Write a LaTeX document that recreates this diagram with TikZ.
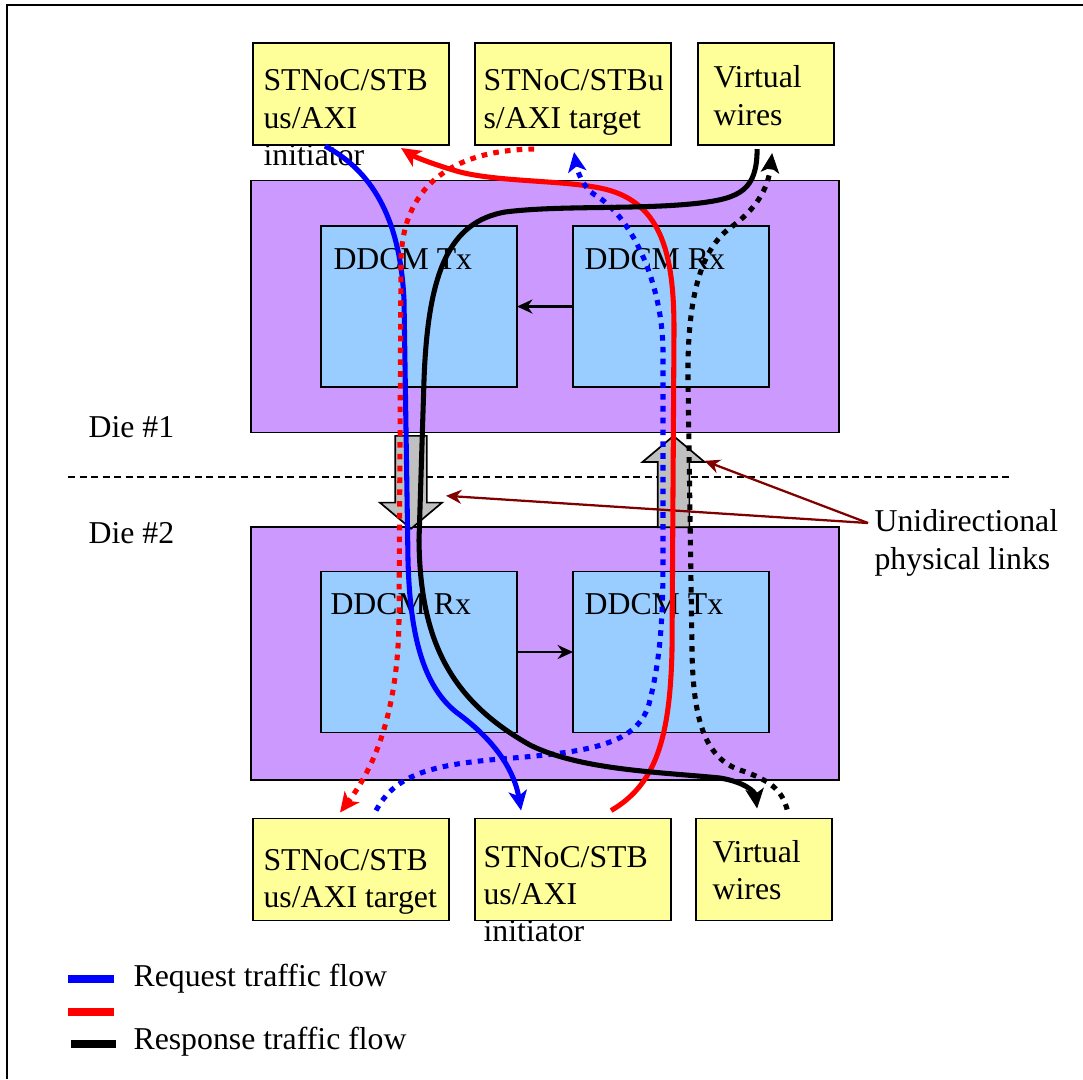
\documentclass[tikz,border=0pt]{standalone}
\usepackage{fontspec}
\setmainfont{Liberation Serif}
\usetikzlibrary{positioning,calc,shapes.arrows,arrows.meta}

\definecolor{yfill}{HTML}{FFFF99}
\definecolor{dfill}{HTML}{CC99FF}
\definecolor{mfill}{HTML}{99CCFF}
\definecolor{afill}{HTML}{C0C0C0}
\definecolor{cred}{HTML}{800000}

\tikzset{
  ybox/.style={rectangle, draw, fill=yfill, line width=0.6pt, minimum width=2.45cm, minimum height=1.275cm, inner sep=0pt, outer sep=0pt},
  die/.style={rectangle, draw, fill=dfill, line width=0.6pt, minimum width=7.35cm, minimum height=3.15cm, inner sep=0pt, outer sep=0pt},
  mod/.style={rectangle, draw, fill=mfill, line width=0.6pt, minimum width=2.45cm, minimum height=2.0125cm, inner sep=0pt, outer sep=0pt},
  lbl/.style={anchor=north west, inner sep=0pt, align=left},
  blk/.style={single arrow, draw, fill=afill, line width=0.6pt, inner xsep=0pt, inner ysep=0.1875cm, single arrow head extend=0.19cm, single arrow tip angle=100, minimum height=1.16cm},
  flow/.style={line width=1.8pt, -{Stealth[length=7pt,width=6.5pt,inset=1.8pt]}},
  dots/.style={flow, dash pattern=on 2pt off 2.2pt},
  link/.style={line width=1pt, -{Stealth[length=5.5pt,width=5pt]}},
  callout/.style={cred, line width=0.8pt, -{Stealth[length=5.5pt,width=5pt]}},
  sepline/.style={line width=0.7pt, dash pattern=on 2.5pt off 1.6pt},
  legline/.style={line width=2.8pt},
}

\begin{document}
\begin{tikzpicture}[x=0.0125cm, y=-0.0125cm, font=\fontsize{11.3pt}{13.3pt}\selectfont]
    \useasboundingbox (0,0) rectangle (1083,1079);
    % Frame and die boundary
    \draw[line width=0.7pt] (7,1079) -- (7,5) -- (1083,5);
    \draw[sepline] (68,477) -- (1009,477);

    % Dies
    \node (die1) [die] at (545,306.5) {};
    \node (die2) [die, minimum height=3.1625cm] at (545,653.5) {};
    \node (d1tx) [mod] at (419,306.5) {};
    \node (d1rx) [mod, right=0.7cm of d1tx] {};
    \node (d2rx) [mod] at (419,652) {};
    \node (d2tx) [mod, right=0.7cm of d2rx] {};
    \node (d1txl) [lbl] at ($(d1tx.north west)+(12,22)$) {DDCM Tx};
    \node (d1rxl) [lbl] at ($(d1rx.north west)+(11,22)$) {DDCM Rx};
    \node (d2rxl) [lbl] at ($(d2rx.north west)+(9,21)$) {DDCM Rx};
    \node (d2txl) [lbl] at ($(d2tx.north west)+(11,21)$) {DDCM Tx};
    \node (die1l) [lbl] at (88,416) {Die \#1};
    \node (die2l) [lbl] at (88,522) {Die \#2};

    % Top interfaces
    \node (tA) [ybox] at (351,94) {};
    \node (tB) [ybox, right=0.325cm of tA] {};
    \node (tC) [ybox, minimum width=1.7cm, right=0.3375cm of tB] {};
    \node (tAl) [lbl] at ($(tA.north west)+(10,26)$) {STNoC/STB\\us/AXI\\initiator};
    \node (tBl) [lbl] at ($(tB.north west)+(8,26)$) {STNoC/STBu\\s/AXI target};
    \node (tCl) [lbl] at ($(tC.north west)+(15,22)$) {Virtual\\wires};

    % Bottom interfaces
    \node (bA) [ybox] at (351,869.5) {};
    \node (bB) [ybox, right=0.325cm of bA] {};
    \node (bC) [ybox, minimum width=1.7cm, right=0.3125cm of bB] {};
    \node (bAl) [lbl] at ($(bA.north west)+(10,30)$) {STNoC/STB\\us/AXI target};
    \node (bBl) [lbl] at ($(bB.north west)+(8,27)$) {STNoC/STB\\us/AXI\\initiator};
    \node (bCl) [lbl] at ($(bC.north west)+(16,21)$) {Virtual\\wires};

    % Internal links
    \draw[link] (d1rx.west) -- (d1tx.east);
    \draw[link] (d2rx.east) -- (d2tx.west);

    % Physical links
    \node (dnArr) [blk, rotate=-90, anchor=tail] at (411,435) {};
    \node (upArr) [blk, rotate=90, anchor=tail, minimum height=1.14cm] at (673.5,528) {};
    \node (uni) [lbl] at (874,509) {Unidirectional\\physical links};
    \coordinate (uniS) at ($(uni.north west)+(-6,14)$);
    \draw[callout] (uniS) -- ($(upArr.tip)+(31,26)$);
    \draw[callout] (uniS) -- ($(dnArr.tip)+(35,-34)$);

    % Traffic flows
    \draw[flow, blue] ($(tA.south)+(-26,1)$) .. controls (370,170) and (400,215) .. (404,300) -- (408,560)
        .. controls (410,640) and (425,690) .. (460,715) .. controls (500,745) and (515,775) .. ($(bB.north)+(-52,-8)$);
    \draw[dots, red] ($(tB.south)+(-39,4)$) .. controls (460,150) and (403,180) .. (401,260) -- (399,620)
        .. controls (398,700) and (380,760) .. ($(bA.north)+(-11,-6)$);
    \draw[flow, red] ($(bB.north)+(38,-8)$) .. controls (655,785) and (670,740) .. (672,650) -- (674,330)
        .. controls (674,250) and (660,200) .. (600,188) .. controls (560,180) and (500,182) .. (460,172)
        .. controls (435,165) and (415,157) .. ($(tA.south)+(50,3)$);
    \draw[dots, blue] ($(bA.north)+(25,-8)$) .. controls (395,775) and (430,765) .. (500,759)
        .. controls (590,752) and (640,745) .. (650,700) .. controls (660,660) and (663,620) .. (663,560) -- (663,350)
        .. controls (662,280) and (630,215) .. (595,195) .. controls (583,188) and (577,170) .. ($(tB.south)+(1,7)$);
    \draw[flow, black] ($(tC.south)+(-9,4)$) .. controls (757,190) and (740,198) .. (700,203)
        .. controls (640,210) and (560,205) .. (505,212) .. controls (450,222) and (428,270) .. (424,380) -- (419,540)
        .. controls (420,640) and (450,700) .. (530,745) .. controls (580,770) and (660,772) .. (720,778)
        .. controls (745,782) and (755,792) .. ($(bC.north)+(-7,-10)$);
    \draw[dots, black] ($(bC.north)+(23,-9)$) .. controls (782,790) and (770,780) .. (740,770)
        .. controls (705,758) and (693,720) .. (692,650) -- (688,380) .. controls (687,300) and (700,250) .. (730,228)
        .. controls (755,210) and (768,190) .. ($(tC.south)+(6,8)$);

    % Legend
    \node (reqL) [lbl] at (133,964) {Request traffic flow};
    \node (rspL) [lbl] at (133,1027) {Response traffic flow};
    \draw[legline, blue] (68,979) -- (114,979);
    \draw[legline, red] (68,1012) -- (114,1012);
    \draw[legline, black] (71,1044) -- (116,1044);
\end{tikzpicture}
\end{document}
